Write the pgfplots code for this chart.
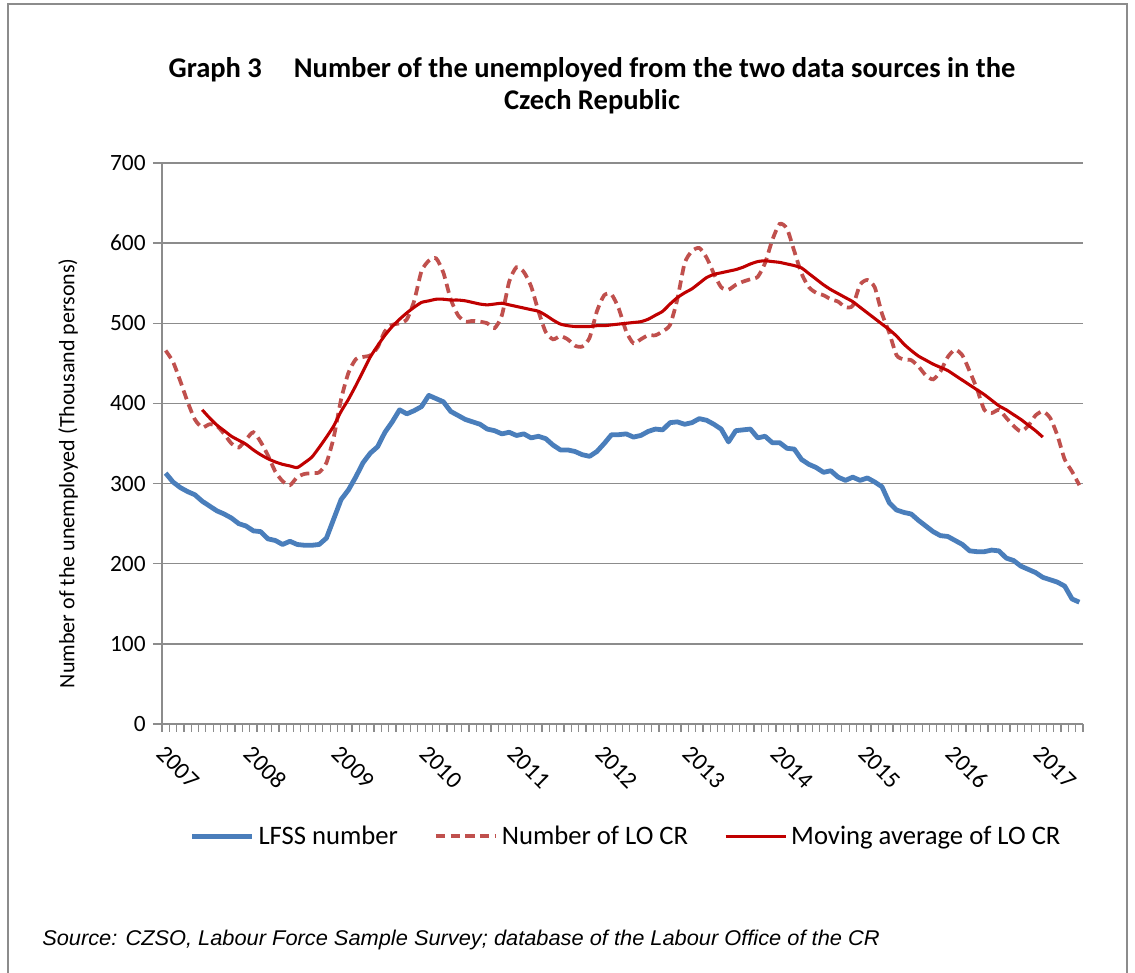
\documentclass[border=0pt]{standalone}
\usepackage{pgfplots}
\pgfplotsset{compat=1.18}
\usepackage{pgfplotstable}
\usepackage{graphicx}
\usepackage{fontspec}
\setmainfont{Carlito}
\newfontfamily\srcfont{Liberation Sans}
\definecolor{lfss}{HTML}{4A7EBB}
\definecolor{lo}{HTML}{C0504D}
\definecolor{ma}{HTML}{C00000}
\definecolor{gridc}{HTML}{8C8C8C}

\pgfplotstableread{
i lfss lo ma
0 313 466 nan
1 302 452 nan
2 295 428 nan
3 290 402 nan
4 286 380 nan
5 278 370 392
6 272 374 382
7 266 372 373
8 262 362 366
9 257 350 359
10 250 345 354
11 247 355 349
12 241 364 342
13 240 352 336
14 231 335 331
15 229 315 327
16 224 303 324
17 228 298 322
18 224 308 320
19 223 312 326
20 223 313 333
21 224 314 345
22 232 326 358
23 256 358 372
24 280 405 390
25 292 438 405
26 308 455 422
27 326 458 440
28 338 460 458
29 346 470 472
30 364 490 485
31 377 498 496
32 392 500 505
33 387 505 513
34 391 528 520
35 396 565 526
36 410 578 528
37 406 581 530
38 402 563 530
39 390 530 529
40 385 510 529
41 380 502 528
42 377 503 526
43 374 502 524
44 368 500 523
45 366 494 524
46 362 510 525
47 364 552 523
48 360 570 521
49 362 564 519
50 357 546 517
51 359 515 515
52 356 489 510
53 348 480 504
54 342 484 499
55 342 480 497
56 340 472 496
57 336 471 496
58 334 482 496
59 340 515 497
60 350 535 497
61 361 536 498
62 361 518 499
63 362 490 500
64 358 475 501
65 360 480 502
66 365 485 505
67 368 485 510
68 367 490 515
69 376 498 524
70 377 530 532
71 374 575 538
72 376 590 543
73 381 594 550
74 379 582 557
75 374 562 561
76 368 545 563
77 352 542 565
78 366 548 567
79 367 552 570
80 368 555 574
81 357 558 577
82 359 575 578
83 351 604 577
84 351 624 576
85 344 618 574
86 343 590 572
87 330 562 569
88 324 545 562
89 320 538 555
90 314 535 548
91 316 530 542
92 308 527 537
93 304 520 532
94 308 522 527
95 304 548 520
96 307 554 513
97 302 545 506
98 296 512 499
99 276 488 492
100 267 460 484
101 264 455 474
102 262 454 466
103 254 446 459
104 247 435 454
105 240 430 449
106 235 440 445
107 234 458 441
108 229 467 435
109 224 460 429
110 216 440 423
111 215 418 417
112 215 392 411
113 217 388 404
114 216 392 397
115 207 382 392
116 204 372 386
117 197 365 380
118 193 372 373
119 189 385 366
120 183 390 358
121 180 382 nan
122 177 360 nan
123 172 330 nan
124 156 315 nan
125 152 298 nan
}\datatable

\begin{document}
\begin{tikzpicture}[x=0.75pt,y=0.75pt]
\useasboundingbox (0,0) rectangle (1135,973);
\draw[gridc, line width=1pt] (8,0) -- (8,969) -- (1127,969) -- (1127,0);
\node[anchor=base, font=\bfseries\fontsize{21.4pt}{25pt}\selectfont] at (592,973-78)
  {Graph 3\hspace{24pt}Number of the unemployed from the two data sources in the};
\node[anchor=base, font=\bfseries\fontsize{21.4pt}{25pt}\selectfont] at (592,973-110)
  {Czech Republic};
\node[anchor=base west, inner sep=0pt] at (42,973-946)
  {\resizebox{628pt}{\height}{\srcfont\itshape\fontsize{16pt}{18pt}\selectfont Source: CZSO, Labour Force Sample Survey; database of the Labour Office of the CR}};
\begin{axis}[
  at={(121.5pt,186.75pt)}, anchor=south west,
  scale only axis, width=690.75pt, height=420.75pt,
  xmin=-0.5, xmax=125.5, ymin=0, ymax=700,
  ytick={0,100,...,700},
  xtick={0,12,...,120},
  xticklabels={2007,2008,2009,2010,2011,2012,2013,2014,2015,2016,2017},
  minor xtick={-0.5,0.5,...,125.5},
  axis x line*=bottom, axis y line*=left,
  axis line style={gridc, line width=1.1pt, -},
  tick align=outside,
  major tick length=6.75pt, minor tick length=6pt,
  major x tick style={draw=none},
  minor x tick style={gridc, line width=0.9pt},
  major y tick style={gridc, line width=1.1pt},
  ymajorgrids, grid style={gridc, line width=1.1pt},
  /pgf/number format/assume math mode=true,
  yticklabel style={font=\fontsize{17.5pt}{19pt}\selectfont, anchor=east, xshift=-2pt},
  xticklabel style={font=\fontsize{18pt}{19pt}\selectfont, xshift=0.6pt, yshift=-3.5pt, rotate=-45, anchor=north west},
  ylabel={Number of the unemployed (Thousand persons)},
  ylabel style={font=\fontsize{16.5pt}{18pt}\selectfont, at={(axis description cs:-0.102,0.447)}, anchor=center},
  legend columns=3,
  legend style={at={(axis description cs:0.505,-0.2)}, anchor=center, draw=none,
    font=\fontsize{20pt}{22pt}\selectfont,
    /tikz/every even column/.append style={column sep=24pt},
    nodes={inner sep=3pt}},
  legend image code/.code={\draw[#1] (0pt,0pt) -- (45pt,0pt);},
]
\addplot[lfss, line width=3.6pt, line join=round] table[x=i, y=lfss] {\datatable};
\addlegendentry{LFSS number}
\addplot[lo, line width=2.8pt, dash pattern=on 7pt off 4pt, smooth, tension=0.4] table[x=i, y=lo] {\datatable};
\addlegendentry{Number of LO CR}
\addplot[ma, line width=2.3pt, smooth, tension=0.4] table[x=i, y=ma] {\datatable};
\addlegendentry{Moving average of LO CR}
\end{axis}
\end{tikzpicture}
\end{document}
